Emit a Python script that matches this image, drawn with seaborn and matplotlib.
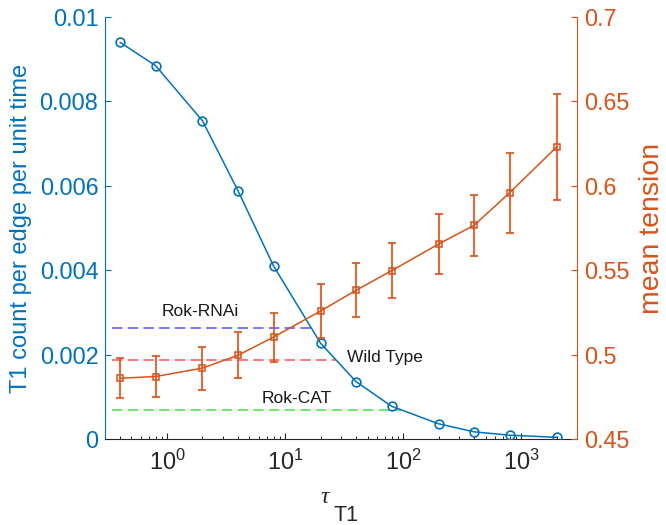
import numpy as np
import pandas as pd
import matplotlib
matplotlib.use("Agg")
import matplotlib.pyplot as plt
import seaborn as sns
from matplotlib.ticker import FixedLocator, FuncFormatter, LogLocator

# T1 relaxation time values (x axis, log scale)
tau_t1 = [0.4, 0.8, 2, 4, 8, 20, 40, 80, 200, 400, 800, 2000]
# T1 transition rate per edge per unit time (left axis)
t1_rate = [0.0094, 0.00885, 0.00754, 0.00588, 0.0041, 0.00227,
           0.00136, 0.000775, 0.00036, 0.00017, 0.00009, 0.00004]
# mean edge tension and its spread (right axis)
tension_mean = [0.486, 0.487, 0.492, 0.4996, 0.5104, 0.5258,
                0.5381, 0.5497, 0.5655, 0.5766, 0.5959, 0.623]
tension_err = [0.012, 0.0123, 0.0127, 0.0135, 0.0145, 0.0158,
               0.016, 0.0163, 0.018, 0.018, 0.0237, 0.0315]

# measured T1 rates for the experimental conditions
ref_names = ["Rok-RNAi", "Wild Type", "Rok-CAT"]
ref_rates = [0.00264, 0.00188, 0.00069]
ref_start = [0.34, 0.34, 0.34]
ref_end = [16.7, 27, 96]

left_ticks = [0, 0.002, 0.004, 0.006, 0.008, 0.01]
right_ticks = [0.45, 0.5, 0.55, 0.6, 0.65, 0.7]

BLUE = "#0072BD"
ORANGE = "#D95319"
DARK = "#262626"
REF_COLORS = ["#6b6bff", "#ff6b6b", "#5fe85f"]

sns.set_theme(style="ticks")
plt.rcParams["font.family"] = ["Liberation Sans", "DejaVu Sans"]
plt.rcParams["mathtext.fontset"] = "custom"
plt.rcParams["mathtext.rm"] = "Liberation Sans"
plt.rcParams["mathtext.it"] = "Liberation Sans:italic"
plt.rcParams["lines.scale_dashes"] = False

fig = plt.figure(figsize=(6.66, 5.25), dpi=100)
ax = fig.add_axes([0.158, 0.1638, 0.709, 0.8038])
ax.set_xscale("log")
ax.set_xlim(0.3, 3000)
ax.set_ylim(0, 0.01)

# reference levels, drawn as dashed horizontal segments
for name, rate, x0, x1, col in zip(ref_names, ref_rates, ref_start, ref_end, REF_COLORS):
    ax.plot([x0, x1], [rate, rate], color=col, lw=1.3,
            linestyle=(0, (7.5, 3.8)), zorder=1)

df_rate = pd.DataFrame({"tau": tau_t1, "rate": t1_rate})
sns.lineplot(data=df_rate, x="tau", y="rate", ax=ax, color=BLUE, lw=1.1,
             marker="o", markersize=6.3, markerfacecolor="none",
             markeredgecolor=BLUE, markeredgewidth=1.2, sort=False,
             errorbar=None, zorder=3)

ax.text(1.92, 0.00301, "Rok-RNAi", fontsize=12.5, ha="center", va="center", color="#1a1a1a")
ax.text(33.5, 0.00192, "Wild Type", fontsize=12.5, ha="left", va="center", color="#1a1a1a")
ax.text(6.3, 0.00097, "Rok-CAT", fontsize=12.5, ha="left", va="center", color="#1a1a1a")

ax2 = ax.twinx()
ax2.set_ylim(0.45, 0.7)
ax2.errorbar(tau_t1, tension_mean, yerr=tension_err, fmt="none",
             ecolor=ORANGE, elinewidth=1.5, capsize=2.9, capthick=1.5,
             alpha=0.85, zorder=2)
df_ten = pd.DataFrame({"tau": tau_t1, "tension": tension_mean})
sns.lineplot(data=df_ten, x="tau", y="tension", ax=ax2, color=ORANGE, lw=1.1,
             marker="s", markersize=4.3, markerfacecolor="none",
             markeredgecolor=ORANGE, markeredgewidth=1.1, sort=False,
             errorbar=None, zorder=3)
ax2.set_xscale("log")
ax2.set_xlim(0.3, 3000)

# axis styling
fmt = FuncFormatter(lambda v, p: "%g" % v)
ax.yaxis.set_major_locator(FixedLocator(left_ticks))
ax.yaxis.set_major_formatter(fmt)
ax2.yaxis.set_major_locator(FixedLocator(right_ticks))
ax2.yaxis.set_major_formatter(fmt)
ax.xaxis.set_major_locator(LogLocator(base=10, numticks=10))
ax.xaxis.set_minor_locator(LogLocator(base=10, subs=np.arange(2, 10), numticks=20))

for a in (ax, ax2):
    a.spines["top"].set_visible(False)
    a.grid(False)
ax.spines["right"].set_visible(False)
ax2.spines["left"].set_visible(False)
ax2.spines["bottom"].set_visible(False)
ax.spines["left"].set_color(BLUE)
ax.spines["bottom"].set_color(DARK)
ax2.spines["right"].set_color(ORANGE)
for sp in ("left", "bottom"):
    ax.spines[sp].set_linewidth(0.8)
ax2.spines["right"].set_linewidth(0.8)

ax.tick_params(axis="y", direction="in", length=4.5, width=0.8, color=BLUE,
               labelcolor=BLUE, labelsize=16.8, pad=5)
ax.tick_params(axis="x", which="major", direction="in", length=4.5, width=0.8,
               color=DARK, labelcolor=DARK, labelsize=16.8, pad=8)
ax.tick_params(axis="x", which="minor", direction="in", length=2.5, width=0.7,
               color=DARK)
ax2.tick_params(axis="y", direction="in", length=4.5, width=0.8, color=ORANGE,
                labelcolor=ORANGE, labelsize=16.8, pad=5)
ax.set_xlabel("")
ax2.set_xlabel("")

ax.set_ylabel("T1 count per edge per unit time", fontsize=17, color=BLUE)
ax.yaxis.set_label_coords(-0.155, 0.5)
ax2.set_ylabel("mean tension", fontsize=20.5, color=ORANGE)
ax2.yaxis.set_label_coords(1.13, 0.5)

# x-axis title: small raised tau followed by larger "T1"
fig.text(320 / 666, (525 - 503) / 525, "\u03c4", fontsize=17, family="Liberation Serif",
         style="italic", color=DARK, ha="left", va="baseline")
fig.text(333 / 666, (525 - 521) / 525, "T1", fontsize=15.5, color=DARK,
         ha="left", va="baseline")

fig.savefig("out.png", dpi=100, facecolor="white")
